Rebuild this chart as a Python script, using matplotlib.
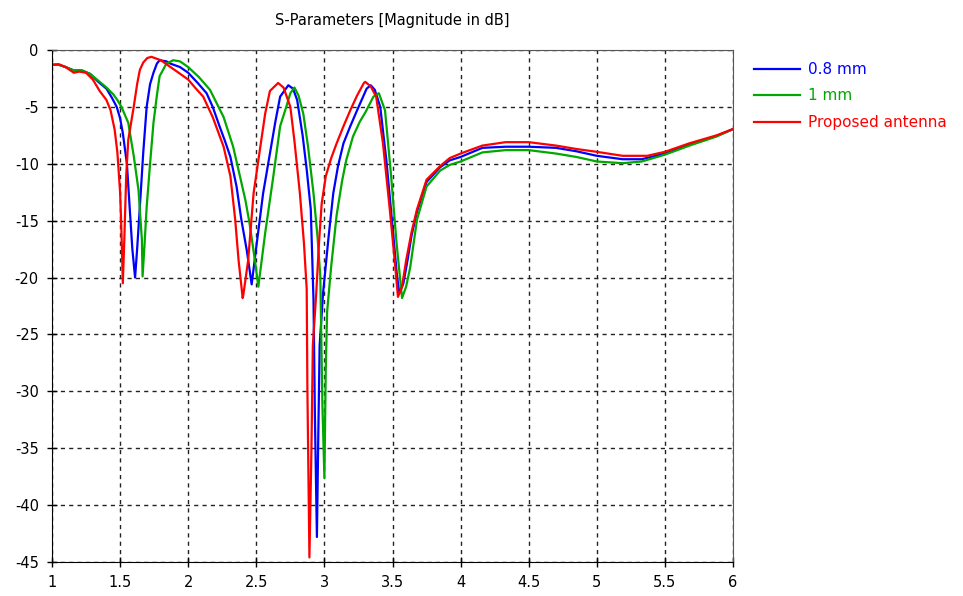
import matplotlib
matplotlib.use("Agg")
import matplotlib.pyplot as plt

plt.rcParams["axes.unicode_minus"] = False

# S11 magnitude (dB) vs frequency (GHz) for the three substrate variants
freq_08 = [1.00, 1.05, 1.10, 1.16, 1.22, 1.28, 1.34, 1.40, 1.44, 1.475, 1.50, 1.52, 1.55, 1.57,
           1.59, 1.61, 1.625, 1.645, 1.67, 1.695, 1.72, 1.745, 1.77, 1.79, 1.84, 1.87, 1.94,
           2.00, 2.07, 2.135, 2.18, 2.23, 2.27, 2.31, 2.355, 2.39, 2.43, 2.466, 2.50, 2.55,
           2.60, 2.64, 2.675, 2.735, 2.77, 2.80, 2.84, 2.87, 2.90, 2.92, 2.93, 2.945, 2.955,
           2.965, 2.99, 3.03, 3.065, 3.10, 3.14, 3.19, 3.24, 3.31, 3.34, 3.37, 3.41, 3.455,
           3.50, 3.53, 3.55, 3.58, 3.61, 3.64, 3.68, 3.75, 3.85, 3.92, 4.00, 4.16, 4.33, 4.50,
           4.70, 4.85, 5.00, 5.19, 5.33, 5.50, 5.68, 5.88, 6.00]
s11_08 = [-1.3, -1.3, -1.5, -1.8, -1.8, -2.1, -2.8, -3.4, -4.2, -5.0, -6.0, -7.3, -10.0, -13.8,
          -17.5, -20.0, -17.5, -13.8, -9.0, -5.0, -3.0, -2.0, -1.2, -0.9, -1.0, -1.2, -1.5,
          -2.0, -2.9, -3.8, -5.0, -6.7, -8.0, -9.4, -12.0, -14.9, -17.6, -20.6, -17.3, -12.6,
          -9.1, -6.3, -4.1, -3.1, -3.4, -4.4, -7.5, -10.5, -14.0, -22.0, -31.9, -42.8,
          -34.0, -26.0, -21.4, -16.5, -12.6, -10.2, -8.2, -6.7, -5.3, -3.4, -3.1, -3.5, -5.0,
          -9.7, -15.5, -19.5, -21.4, -20.5, -18.5, -16.3, -14.2, -11.6, -10.3, -9.7, -9.4,
          -8.6, -8.5, -8.5, -8.6, -8.9, -9.3, -9.6, -9.6, -9.1, -8.35, -7.55, -6.95]

freq_1 = [1.00, 1.05, 1.10, 1.16, 1.22, 1.28, 1.34, 1.40, 1.45, 1.48, 1.51, 1.56, 1.60, 1.635,
          1.66, 1.665, 1.68, 1.695, 1.72, 1.745, 1.77, 1.79, 1.84, 1.89, 1.94, 2.00, 2.08, 2.16,
          2.21, 2.26, 2.33, 2.38, 2.42, 2.45, 2.49, 2.515, 2.565, 2.625, 2.675, 2.72,
          2.75, 2.78, 2.81, 2.845, 2.88, 2.92, 2.95, 2.97, 2.985, 3.00, 3.01, 3.02, 3.05, 3.09,
          3.13, 3.16, 3.21, 3.26, 3.30, 3.36, 3.40, 3.445, 3.49, 3.53, 3.57, 3.60, 3.63, 3.68,
          3.75, 3.85, 3.92, 4.00, 4.16, 4.33, 4.50, 4.70, 4.85, 5.00, 5.19, 5.33, 5.50, 5.68,
          5.88, 6.00]
s11_1 = [-1.3, -1.3, -1.5, -1.8, -1.8, -2.1, -2.7, -3.3, -3.9, -4.4, -5.0, -6.4, -9.3, -12.3,
         -16.7, -19.9, -17.0, -13.8, -10.0, -6.4, -4.0, -2.3, -1.2, -0.9, -1.0, -1.5, -2.4, -3.5,
         -4.7, -5.9, -8.5, -11.1, -13.2, -15.2, -18.5, -20.8, -16.1, -11.1, -6.7,
         -5.0, -3.8, -3.3, -4.0, -5.6, -8.5, -12.6, -16.5, -19.9, -31.0, -37.6, -28.0, -23.0,
         -19.0, -14.5, -11.5, -9.7, -7.6, -6.3, -5.5, -4.1, -3.8, -5.3, -11.1, -17.0, -21.8,
         -20.8, -19.1, -14.9, -12.0, -10.6, -10.1, -9.8, -9.0, -8.8, -8.8, -9.1, -9.4, -9.8,
         -9.95, -9.8, -9.2, -8.4, -7.6, -6.95]

freq_prop = [1.00, 1.05, 1.10, 1.16, 1.20, 1.25, 1.30, 1.35, 1.40, 1.43, 1.46, 1.48, 1.50, 1.51,
             1.52, 1.53, 1.545, 1.56, 1.60, 1.625, 1.645, 1.67, 1.70, 1.73, 1.80, 1.87, 1.93,
             2.00, 2.05, 2.11, 2.18, 2.26, 2.31, 2.345, 2.37, 2.40, 2.405, 2.44, 2.48, 2.515,
             2.565, 2.60, 2.66, 2.70, 2.75, 2.78, 2.82, 2.85, 2.87,
             2.875, 2.89, 2.905, 2.915, 2.94, 2.96, 2.98, 3.01, 3.05, 3.09, 3.14, 3.19, 3.24,
             3.29, 3.30, 3.34, 3.38, 3.43, 3.48, 3.52, 3.54, 3.57, 3.60, 3.64, 3.68, 3.75, 3.85,
             3.92, 4.00, 4.16, 4.33, 4.50, 4.70, 4.85, 5.00, 5.19, 5.37, 5.50, 5.68, 5.88, 6.00]
s11_prop = [-1.3, -1.25, -1.5, -2.0, -1.9, -2.0, -2.6, -3.6, -4.4, -5.3, -7.0, -9.0, -12.5, -16.0,
            -20.5, -17.0, -11.0, -7.9, -5.0, -3.0, -1.75, -1.1, -0.7, -0.6, -0.9, -1.5, -2.0,
            -2.6, -3.3, -4.1, -5.9, -8.5, -11.1, -14.9, -18.5, -21.8, -21.5, -18.5, -12.6, -9.7,
            -5.6, -3.6, -2.9, -3.3, -5.0, -8.0, -12.6, -17.0, -21.0,
            -29.6, -44.6, -35.0, -26.0, -21.4, -17.0, -13.5, -11.1, -9.5, -8.2, -6.7,
            -5.3, -4.0, -2.9, -2.8, -3.2, -4.1, -8.2, -14.0, -19.0, -21.7, -20.8, -18.5, -16.0,
            -14.0, -11.4, -10.2, -9.5, -9.1, -8.4, -8.1, -8.1, -8.4, -8.7, -8.95, -9.3, -9.3,
            -8.95, -8.2, -7.5, -6.95]

labels = ["0.8 mm", "1 mm", "Proposed antenna"]
colors = ["#0000ff", "#00a800", "#ff0000"]
x_ticks = [1, 1.5, 2, 2.5, 3, 3.5, 4, 4.5, 5, 5.5, 6]
y_ticks = list(range(0, -50, -5))

fig = plt.figure(figsize=(9.63, 5.96), dpi=100)
ax = fig.add_axes([52 / 963, 1 - 562 / 596, (733 - 52) / 963, (562 - 50) / 596])

series = [(freq_08, s11_08), (freq_1, s11_1), (freq_prop, s11_prop)]
for (f, s), lab, c in zip(series, labels, colors):
    ax.plot(f, s, color=c, lw=1.6, label=lab)

ax.set_xlim(1, 6)
ax.set_ylim(-45, 0)
ax.set_xticks(x_ticks)
ax.set_xticklabels([f"{t:g}" for t in x_ticks])
ax.set_yticks(y_ticks)
ax.grid(True, color="#222222", linestyle=(0, (3, 3)), linewidth=1)
ax.tick_params(direction="inout", length=7, width=1, labelsize=10.5, pad=6)

for side in ("left", "bottom"):
    ax.spines[side].set_color("black")
for side in ("top", "right"):
    ax.spines[side].set_color("#555555")

ax.set_title("S-Parameters [Magnitude in dB]", fontsize=10.5, pad=18)

leg = fig.legend(loc="upper left", bbox_to_anchor=(754 / 963, 1 - 62 / 596),
                 frameon=False, fontsize=11, handlelength=3.0, labelspacing=0.75,
                 handletextpad=0.55, borderpad=0, borderaxespad=0,
                 labelcolor="linecolor")

fig.savefig("out.png", dpi=100)
